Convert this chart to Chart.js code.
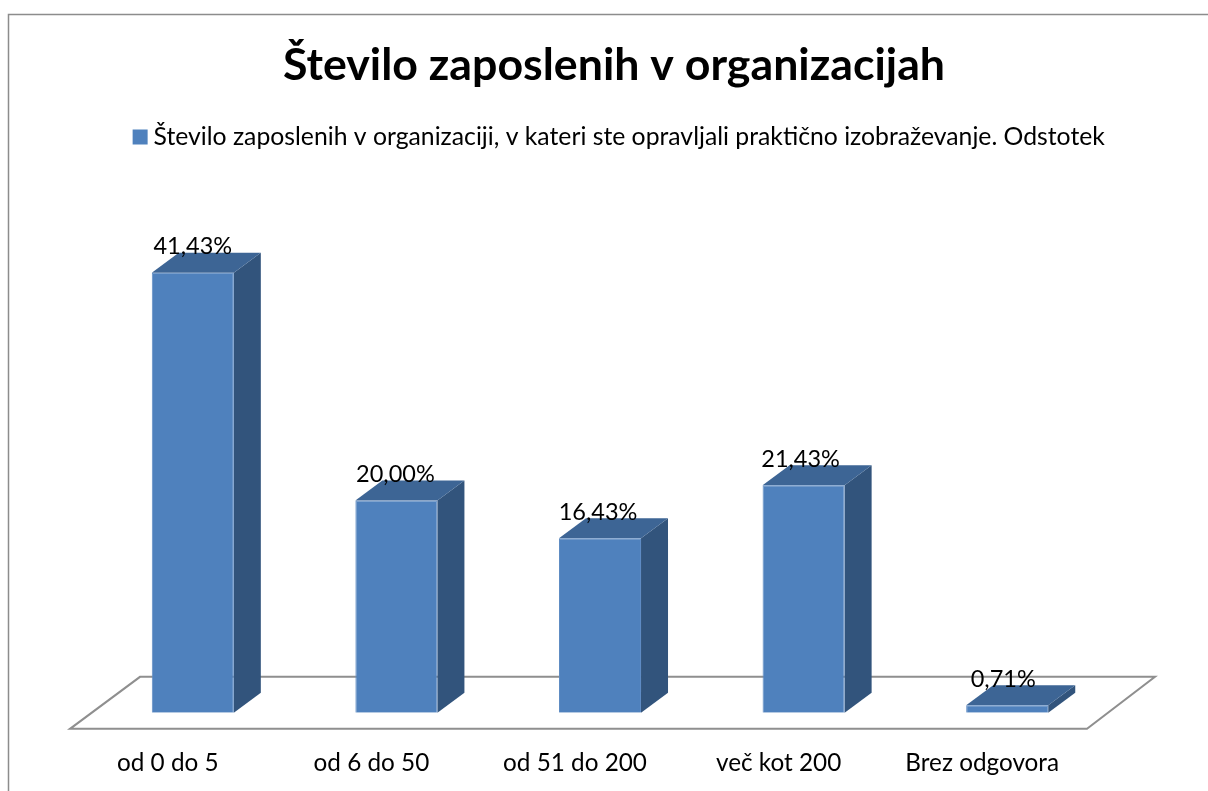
<!DOCTYPE html>
<html><head><meta charset="utf-8">
<style>html,body{margin:0;padding:0;background:#fff}#w{width:1208px;height:791px;position:relative}canvas{display:block}</style>
<script src="https://cdn.jsdelivr.net/npm/chart.js@4/dist/chart.umd.min.js"></script>
</head><body><div id="w"><canvas id="c" width="1208" height="791"></canvas></div>
<script>
const categories = ["od 0 do 5","od 6 do 50","od 51 do 200","več kot 200","Brez odgovora"];
const values = [41.43,20.00,16.43,21.43,0.71];
const seriesName = "Število zaposlenih v organizaciji, v kateri ste opravljali praktično izobraževanje. Odstotek";
const titleText = "Število zaposlenih v organizacijah";
const FONT = "Lato, Carlito, sans-serif";
const DX = 27, DY = 20;
const BLUE = '#4f81bd';

const frame3d = {
  id:'frame3d',
  afterLayout(chart){
    chart.legend.left += 22; chart.legend.right += 22;
    chart.titleBlock.left += 14; chart.titleBlock.right += 14;
  },
  beforeDraw(chart){
    const c = chart.ctx;
    c.save();
    c.fillStyle='#fff'; c.fillRect(0,0,chart.width,chart.height);
    c.strokeStyle='#8c8c8c'; c.lineWidth=1.5;
    c.beginPath(); c.moveTo(8.5,chart.height); c.lineTo(8.5,14.5); c.lineTo(chart.width,14.5); c.stroke();
    c.restore();
  },
  beforeDatasetsDraw(chart){
    const c = chart.ctx, a = chart.chartArea, y0 = chart.scales.y.getPixelForValue(0);
    c.save();
    c.strokeStyle='#8f8f8f'; c.lineWidth=2;
    c.beginPath();
    c.moveTo(a.left-21,y0+16); c.lineTo(a.right-22,y0+16);
    c.lineTo(a.right+46,y0-36); c.lineTo(a.left+49,y0-36); c.closePath(); c.stroke();
    chart.getDatasetMeta(0).data.forEach(b=>{
      const l=b.x-b.width/2, r=b.x+b.width/2, t=b.y, bt=b.base;
      c.fillStyle='#32547c';
      c.beginPath(); c.moveTo(r,t); c.lineTo(r+DX,t-DY); c.lineTo(r+DX,bt-DY); c.lineTo(r,bt); c.closePath(); c.fill();
      c.fillStyle='#3d6595';
      c.beginPath(); c.moveTo(l,t); c.lineTo(l+DX,t-DY); c.lineTo(r+DX,t-DY); c.lineTo(r,t); c.closePath(); c.fill();
    });
    c.restore();
  },
  afterDatasetsDraw(chart){
    const c = chart.ctx;
    c.save();
    c.fillStyle='#000'; c.font='23.5px '+FONT; c.textAlign='center'; c.textBaseline='alphabetic';
    chart.getDatasetMeta(0).data.forEach((b,i)=>{
      c.fillText(values[i].toFixed(2).replace('.',',')+'%', b.x-i, b.y-18.5);
    });
    c.restore();
  }
};

new Chart(document.getElementById('c'),{
  type:'bar',
  data:{labels:categories,datasets:[{label:seriesName,data:values,backgroundColor:BLUE,borderColor:'#5f8cc4',borderWidth:1,
    categoryPercentage:1,barPercentage:0.403}]},
  options:{
    responsive:false,animation:false,
    layout:{padding:{left:91,right:99,top:39,bottom:-23}},
    plugins:{
      title:{display:true,text:titleText,color:'#000',font:{family:FONT,size:44.7,weight:'bold'},padding:{top:0,bottom:22}},
      legend:{display:true,position:'top',labels:{color:'#000',font:{family:FONT,size:24.75},boxWidth:2,boxHeight:2,padding:10,
        generateLabels(chart){
          return Chart.defaults.plugins.legend.labels.generateLabels(chart).map(l=>Object.assign(l,{fillStyle:BLUE,strokeStyle:BLUE,lineWidth:13}));
        }}},
      tooltip:{enabled:false}
    },
    scales:{
      x:{grid:{display:false,drawTicks:false},border:{display:false},ticks:{color:'#000',font:{family:FONT,size:24.3},padding:36,maxRotation:0,labelOffset:-25}},
      y:{display:false,min:0,max:52.1}
    }
  },
  plugins:[frame3d]
});
</script></body></html>
